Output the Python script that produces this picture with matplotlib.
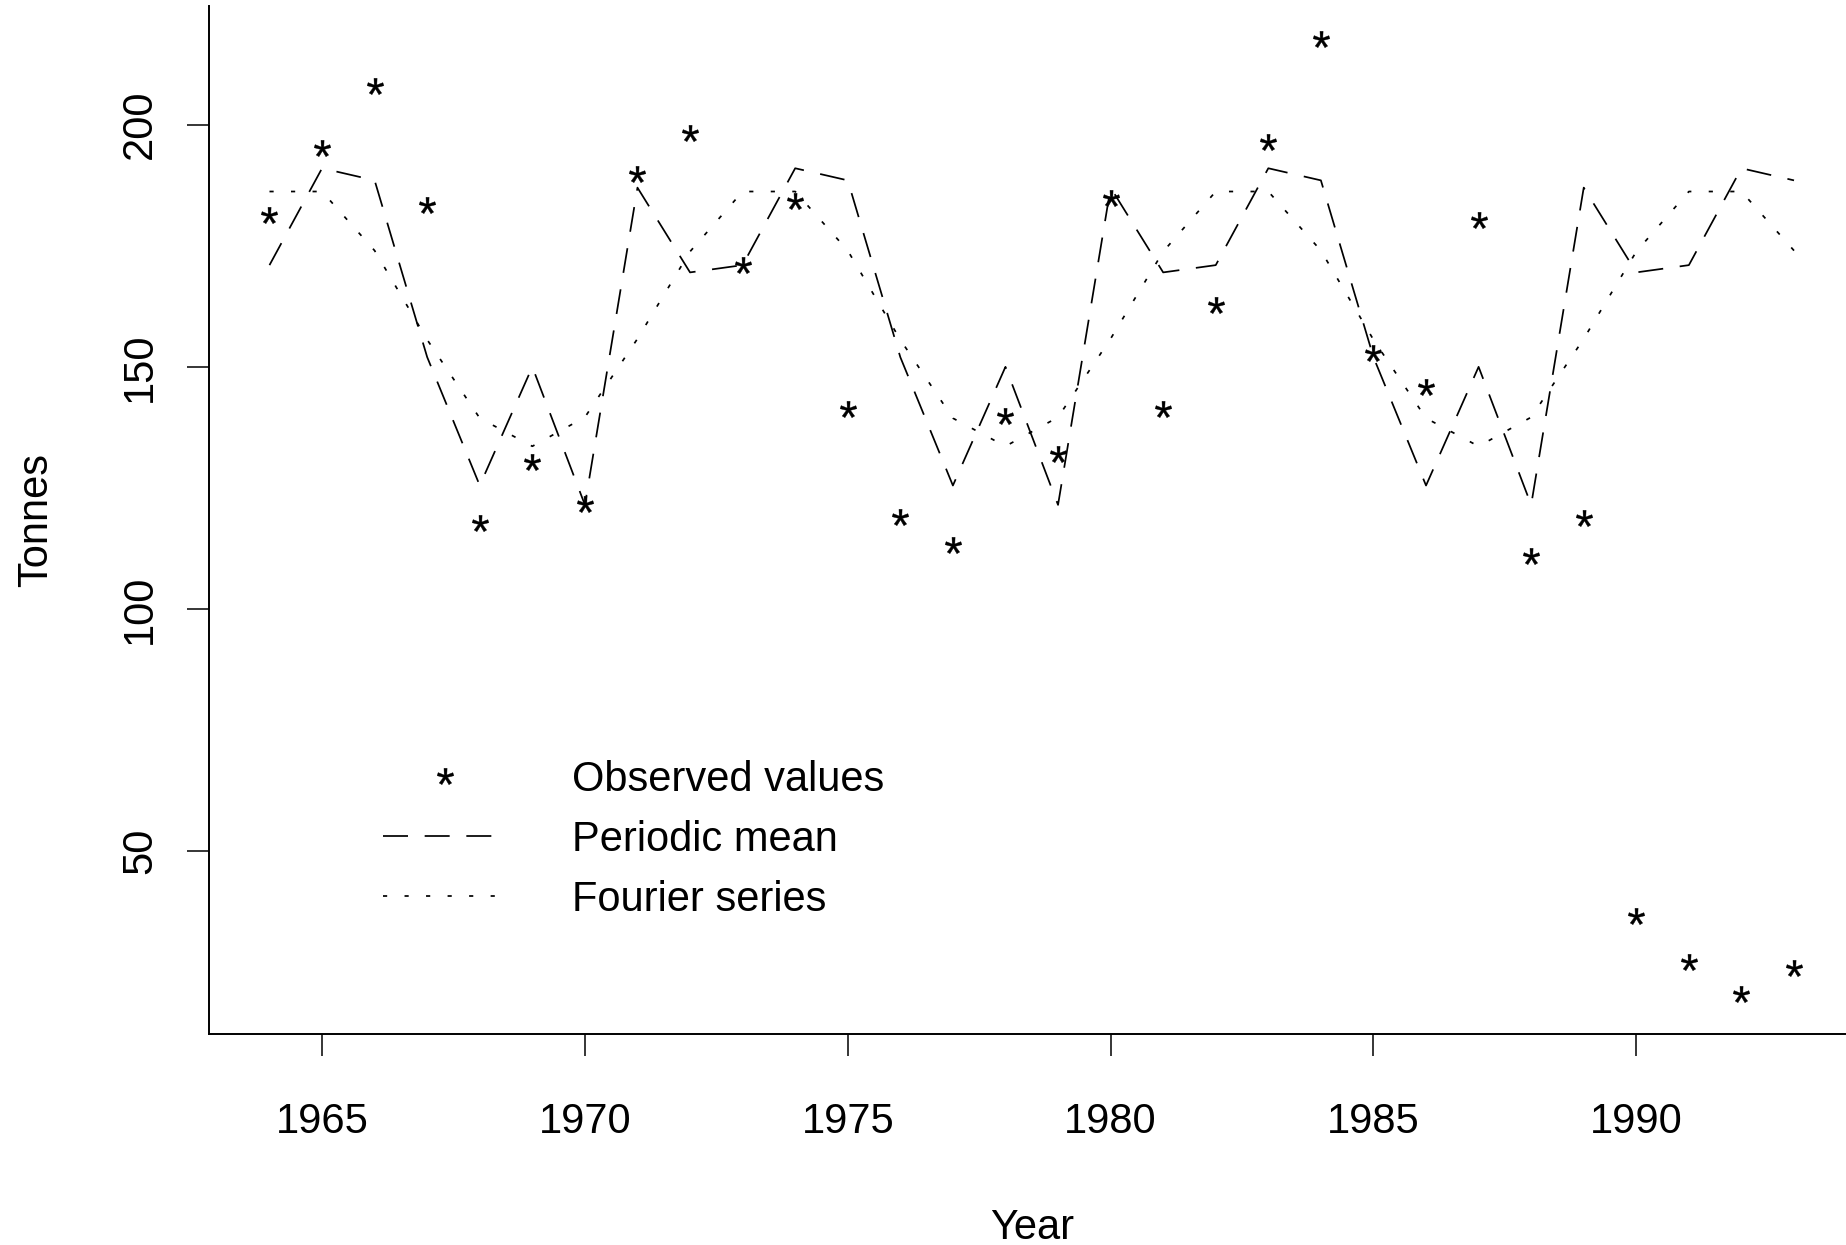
import matplotlib
matplotlib.use('Agg')
import matplotlib.pyplot as plt
from matplotlib.textpath import TextPath
from matplotlib.font_manager import FontProperties
from matplotlib.path import Path
from matplotlib.transforms import blended_transform_factory

# ---------------- data ----------------
years = [1964, 1965, 1966, 1967, 1968, 1969, 1970, 1971, 1972, 1973,
         1974, 1975, 1976, 1977, 1978, 1979, 1980, 1981, 1982, 1983,
         1984, 1985, 1986, 1987, 1988, 1989, 1990, 1991, 1992, 1993]

observed = [181.3, 195.1, 208.0, 183.5, 117.7, 130.3, 121.6, 189.8, 198.3, 171.1,
            184.2, 141.2, 118.9, 113.3, 139.8, 132.0, 184.9, 141.2, 162.8, 196.4,
            217.7, 152.9, 145.9, 180.3, 110.9, 118.7, 36.6, 27.1, 20.5, 25.8]

periodic_mean = [171.0, 191.0, 188.5, 152.0, 125.5, 150.0, 121.5, 187.0, 169.5,
                 171.0, 191.0, 188.5, 152.0, 125.5, 150.0, 121.5, 187.0, 169.5,
                 171.0, 191.0, 188.5, 152.0, 125.5, 150.0, 121.5, 187.0, 169.5,
                 171.0, 191.0, 188.5]

fourier = [186.2, 186.2, 174.0, 155.6, 139.4, 133.6, 139.6, 155.8, 173.8,
           186.2, 186.2, 174.0, 155.6, 139.4, 133.6, 139.6, 155.8, 173.8,
           186.2, 186.2, 174.0, 155.6, 139.4, 133.6, 139.6, 155.8, 173.8,
           186.2, 186.2, 174.0]

xticks = [1965, 1970, 1975, 1980, 1985, 1990]
yticks = [50, 100, 150, 200]
labels = ['Observed values', 'Periodic mean', 'Fourier series']

# ---------------- style ----------------
plt.rcParams['font.family'] = ['Liberation Sans', 'DejaVu Sans']
plt.rcParams['lines.scale_dashes'] = False
FS = 30
W, H = 1846, 1245

fig = plt.figure(figsize=(W / 100, H / 100), dpi=100)
fig.patch.set_facecolor('white')
ax = fig.add_axes([208.5 / W, 1 - 1034 / H, (1855 - 208.5) / W, (1034 - 6) / H])

# asterisk marker built from the font glyph, centred on the point
tp = TextPath((0, 0), '*', size=10, prop=FontProperties(family='Liberation Sans'))
codes = tp.codes
v = tp.vertices.copy()
real = codes != Path.CLOSEPOLY
xs, ys = v[real, 0], v[real, 1]
cx, cy = (xs.min() + xs.max()) / 2, (ys.min() + ys.max()) / 2
v[:, 0] -= cx
v[:, 1] -= cy
v[~real] = 0.0
star = Path(v, codes)

ax.plot(years, observed, linestyle='none', marker=star, markersize=12,
        color='black', markeredgewidth=0.3, label=labels[0])
ax.plot(years, periodic_mean, color='black', lw=1.25, dashes=(18, 12),
        dash_capstyle='butt', label=labels[1])
ax.plot(years, fourier, color='black', lw=1.25, dashes=(3, 12.5),
        dash_capstyle='butt', label=labels[2])

ax.set_xlim(1962.84, 1994.16)
ax.set_ylim(12.26, 224.5)
ax.spines['top'].set_visible(False)
ax.spines['right'].set_visible(False)
for s in ('left', 'bottom'):
    ax.spines[s].set_linewidth(1.4)

ax.set_xticks(xticks)
ax.set_xticklabels([str(t) for t in xticks])
ax.set_yticks(yticks)
ax.set_yticklabels([str(t) for t in yticks], rotation=90, va='center')
ax.tick_params(direction='out', length=15.8, width=1.1, labelsize=FS, colors='black')
ax.tick_params(axis='x', pad=33)
ax.tick_params(axis='y', pad=19)

ax.set_ylabel('Tonnes', fontsize=FS)
ax.yaxis.set_label_coords(56 / W, 0.5,
                          transform=blended_transform_factory(fig.transFigure, ax.transAxes))
ax.set_xlabel('Year', fontsize=FS)
ax.xaxis.set_label_coords(0.5, 1 - 1208 / H,
                          transform=blended_transform_factory(ax.transAxes, fig.transFigure))

ax.legend(loc='upper left', bbox_to_anchor=(382.6 / W, 1 - 760 / H),
          bbox_transform=fig.transFigure, frameon=False, fontsize=FS,
          handlelength=3.0, handletextpad=1.55, labelspacing=0.48,
          borderpad=0, borderaxespad=0, numpoints=1)

fig.savefig('out.png', dpi=100, facecolor='white')
